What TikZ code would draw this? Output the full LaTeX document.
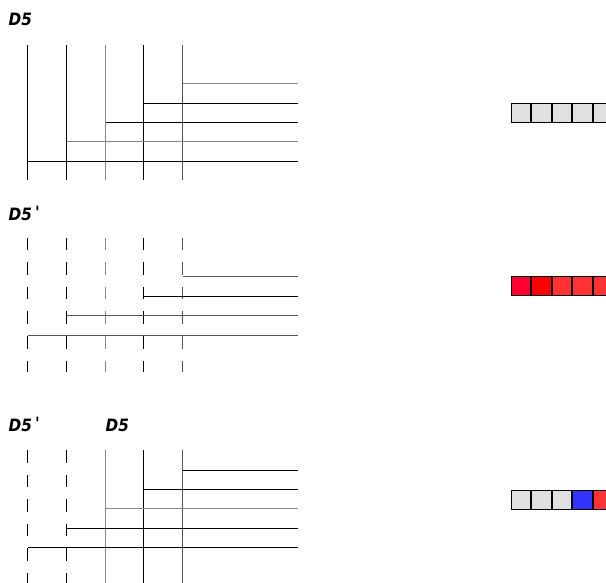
\documentclass[tikz,border=0pt]{standalone}
\usepackage{fontspec}
\setmainfont{Liberation Sans}
\newfontfamily\ttlfont{DejaVu Sans Condensed}
\definecolor{lgray}{HTML}{888888}
\definecolor{dgray}{HTML}{555555}
\definecolor{cgray}{HTML}{E0E0E0}
\definecolor{crim}{HTML}{FF0033}
\definecolor{pred}{HTML}{FF0000}
\definecolor{lred}{HTML}{FF3333}
\definecolor{lblue}{HTML}{3333FF}
\begin{document}
\begin{tikzpicture}[x=1pt,y=-1pt,
  ln/.style={line width=1pt},
  blk/.style={ln,draw=black},
  gry/.style={ln,draw=lgray},
  dgr/.style={ln,draw=dgray},
  dsh/.style={dash pattern=on 12.5pt off 12pt},
  ttl/.style={anchor=base west,inner sep=0pt,font=\ttlfont\fontsize{17}{20}\selectfont\bfseries\itshape},
  cell/.style={draw=black,line width=1pt,minimum width=19.5pt,minimum height=19pt,inner sep=0pt,anchor=north west}]
\useasboundingbox (0,0) rectangle (606,583);
\clip (0,0) rectangle (606,583);

% ---------- panel 1 ----------
\node[ttl] (t1) at (8.5,25.5) {D5};
\draw[blk] (27.5,45) -- (27.5,180);
\draw[blk] (66.5,45) -- (66.5,180);
\draw[gry] (105.5,45) -- (105.5,180);
\draw[blk] (143.5,45) -- (143.5,180);
\draw[dgr] (182.5,45) -- (182.5,180);
\draw[gry] (182.5,83.5) -- (298,83.5);
\draw[blk] (143.5,103.5) -- (298,103.5);
\draw[blk] (105.5,122.5) -- (298,122.5);
\draw[gry] (66.5,141.5) -- (298,141.5);
\draw[blk] (27.5,161.5) -- (298,161.5);
\node[cell,fill=cgray] (p1c1) at (510.5,103.5) {};
\node[cell,fill=cgray] (p1c2) at (p1c1.north east) {};
\node[cell,fill=cgray] (p1c3) at (p1c2.north east) {};
\node[cell,fill=cgray] (p1c4) at (p1c3.north east) {};
\node[cell,fill=cgray] (p1c5) at (p1c4.north east) {};

% ---------- panel 2 ----------
\node[ttl] (t2) at (8.5,220.5) {D5\hspace{3pt}\raisebox{2pt}{'}};
\draw[blk,dsh] (27.5,238) -- (27.5,372);
\draw[blk,dsh] (66.5,238) -- (66.5,372);
\draw[gry,dsh] (105.5,238) -- (105.5,372);
\draw[blk,dsh] (143.5,238) -- (143.5,372);
\draw[dgr,dsh] (182.5,238) -- (182.5,372);
\draw[dgr] (182.5,276.5) -- (298,276.5);
\draw[blk] (143.5,296.5) -- (298,296.5);
\draw[dgr] (66.5,315.5) -- (298,315.5);
\draw[dgr] (27.5,335.5) -- (298,335.5);
\node[cell,fill=crim] (p2c1) at (510.5,276.5) {};
\node[cell,fill=pred] (p2c2) at (p2c1.north east) {};
\node[cell,fill=lred] (p2c3) at (p2c2.north east) {};
\node[cell,fill=lred] (p2c4) at (p2c3.north east) {};
\node[cell,fill=lred] (p2c5) at (p2c4.north east) {};

% ---------- panel 3 ----------
\node[ttl] (t3) at (8.5,431.5) {D5\hspace{3pt}\raisebox{2pt}{'}};
\node[ttl] (t4) at (105.5,431.5) {D5};
\draw[blk,dsh] (27.5,450) -- (27.5,586);
\draw[blk,dsh] (66.5,450) -- (66.5,586);
\draw[gry] (105.5,450) -- (105.5,586);
\draw[blk] (143.5,450) -- (143.5,586);
\draw[dgr] (182.5,450) -- (182.5,586);
\draw[blk] (182.5,470.5) -- (298,470.5);
\draw[blk] (143.5,489.5) -- (298,489.5);
\draw[gry] (105.5,508.5) -- (298,508.5);
\draw[blk] (66.5,528.5) -- (298,528.5);
\draw[blk] (27.5,547.5) -- (298,547.5);
\node[cell,fill=cgray] (p3c1) at (510.5,489.5) {};
\node[cell,fill=cgray] (p3c2) at (p3c1.north east) {};
\node[cell,fill=cgray] (p3c3) at (p3c2.north east) {};
\node[cell,fill=lblue] (p3c4) at (p3c3.north east) {};
\node[cell,fill=lred] (p3c5) at (p3c4.north east) {};
\end{tikzpicture}
\end{document}
